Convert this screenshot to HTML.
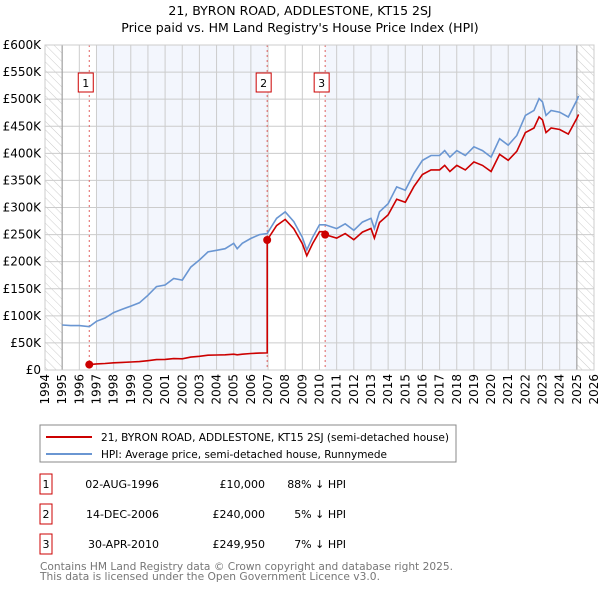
<!DOCTYPE html>
<html><head><meta charset="utf-8">
<style>
body{margin:0;background:#fff;width:600px;height:590px;overflow:hidden;font-family:"DejaVu Sans","Liberation Sans",sans-serif;}
svg{display:block}
</style></head>
<body>
<svg id="chart" width="600" height="590" viewBox="0 0 600 590" xmlns="http://www.w3.org/2000/svg">
<defs>
<pattern id="hatch" width="6" height="6" patternUnits="userSpaceOnUse" patternTransform="rotate(-45)">
<line x1="0" y1="0" x2="0" y2="6" stroke="#ccc" stroke-width="1"/>
</pattern>
</defs>
<text x="300" y="15" text-anchor="middle" font-size="12.5" fill="#000">21, BYRON ROAD, ADDLESTONE, KT15 2SJ</text>
<text x="300" y="32" text-anchor="middle" font-size="12.5" fill="#000">Price paid vs. HM Land Registry's House Price Index (HPI)</text>
<g id="plot"></g>
<g>
<rect x="40" y="425" width="416" height="37" fill="#fff" stroke="#888" stroke-width="1"/>
<line x1="46" y1="437" x2="92" y2="437" stroke="#cc0000" stroke-width="2"/>
<text x="101" y="441" font-size="11" textLength="348" lengthAdjust="spacingAndGlyphs">21, BYRON ROAD, ADDLESTONE, KT15 2SJ (semi-detached house)</text>
<line x1="46" y1="454" x2="92" y2="454" stroke="#6a96d2" stroke-width="2"/>
<text x="101" y="458" font-size="11" textLength="286" lengthAdjust="spacingAndGlyphs">HPI: Average price, semi-detached house, Runnymede</text>
</g>
<g id="table" font-size="11"></g>
<text x="40" y="570" font-size="11" fill="#777" textLength="413" lengthAdjust="spacingAndGlyphs">Contains HM Land Registry data © Crown copyright and database right 2025.</text>
<text x="40" y="580" font-size="11" fill="#777" textLength="340" lengthAdjust="spacingAndGlyphs">This data is licensed under the Open Government Licence v3.0.</text>
</svg>
<script>
const hpiYears=[1995.0,1995.5,1996.0,1996.58,1997.0,1997.5,1998.0,1998.5,1999.0,1999.5,2000.0,2000.5,2001.0,2001.5,2002.0,2002.5,2003.0,2003.5,2004.0,2004.5,2005.0,2005.2,2005.5,2006.0,2006.5,2006.95,2007.5,2008.0,2008.5,2009.0,2009.26,2009.6,2010.0,2010.33,2011.0,2011.5,2012.0,2012.5,2013.0,2013.2,2013.5,2014.0,2014.5,2015.0,2015.5,2016.0,2016.5,2017.0,2017.3,2017.6,2018.0,2018.5,2019.0,2019.5,2020.0,2020.5,2021.0,2021.5,2022.0,2022.5,2022.8,2023.0,2023.2,2023.5,2024.0,2024.5,2025.0,2025.1];
const hpiValues=[83000,82000,82000,80000,90000,96000,106000,112000,118000,124000,138000,154000,157000,169000,166000,190000,203000,218000,221000,224000,234000,224000,234000,243000,250000,252000,280000,292000,274000,245000,221500,245000,268000,268000,261000,270000,258000,273000,280000,261000,292000,307000,338000,332000,363000,387000,396000,396000,405000,393000,405000,396000,412000,405000,393000,427000,415000,433000,470000,479000,501000,495000,470000,479000,476000,467000,498000,506000];
const saleDates=[1996.58,2006.95,2010.33];
const salePrices=[10000,240000,249950];
const saleLabels=["02-AUG-1996","14-DEC-2006","30-APR-2010"];
const salePriceText=["£10,000","£240,000","£249,950"];
const saleDiffText=["88% ↓ HPI","5% ↓ HPI","7% ↓ HPI"];
const yTicks=[0,50000,100000,150000,200000,250000,300000,350000,400000,450000,500000,550000,600000];
const yTickLabels=["£0","£50K","£100K","£150K","£200K","£250K","£300K","£350K","£400K","£450K","£500K","£550K","£600K"];
const xTicks=[1994,1995,1996,1997,1998,1999,2000,2001,2002,2003,2004,2005,2006,2007,2008,2009,2010,2011,2012,2013,2014,2015,2016,2017,2018,2019,2020,2021,2022,2023,2024,2025,2026];

const NS="http://www.w3.org/2000/svg";
const L=45,R=594,T=45,B=370;
const x=t=>L+(t-1994)/(2026-1994)*(R-L);
const y=v=>B-v/600000*(B-T);
function mk(tag,attrs,parent){const e=document.createElementNS(NS,tag);for(const k in attrs)e.setAttribute(k,attrs[k]);parent.appendChild(e);return e;}
function hpiAt(t){for(let i=0;i<hpiYears.length-1;i++){if(t<=hpiYears[i+1]){const f=(t-hpiYears[i])/(hpiYears[i+1]-hpiYears[i]);return hpiValues[i]+f*(hpiValues[i+1]-hpiValues[i]);}}return hpiValues[hpiValues.length-1];}
const plot=document.getElementById('plot');
let bg=mk('rect',{x:L,y:T,width:R-L,height:B-T,fill:'#fff'},plot);


const shades=[[1997,saleDates[1]],[saleDates[2],2025]];
shades.forEach(s=>{const r=mk('rect',{x:x(s[0]),y:T,width:x(s[1])-x(s[0]),height:B-T,fill:'#f3f6fd'},plot);

});
let h1=mk('rect',{x:L,y:T,width:x(1995)-L,height:B-T,fill:'url(#hatch)'},plot);


let h2=mk('rect',{x:x(2025),y:T,width:R-x(2025),height:B-T,fill:'url(#hatch)'},plot);


yTicks.forEach((v,i)=>{const g=mk('line',{x1:L,x2:R,y1:y(v),y2:y(v),stroke:'#cccccc','stroke-width':1},plot);


const t=mk('text',{x:L-4,y:y(v)+4,'text-anchor':'end','font-size':12},plot);t.textContent=yTickLabels[i];

});
xTicks.forEach(yr=>{const g=mk('line',{x1:x(yr),x2:x(yr),y1:T,y2:B,stroke:'#cccccc','stroke-width':1},plot);


const t=mk('text',{x:0,y:0,'text-anchor':'end','font-size':12,transform:`translate(${x(yr)+4},${B+4}) rotate(-90)`},plot);t.textContent=yr;

});
let v1=mk('line',{x1:x(1995),x2:x(1995),y1:T,y2:B,stroke:'#999','stroke-width':1},plot);


let v2=mk('line',{x1:x(2025),x2:x(2025),y1:T,y2:B,stroke:'#999','stroke-width':1},plot);


saleDates.forEach((d,i)=>{const l=mk('line',{x1:x(d),x2:x(d),y1:T,y2:B,stroke:'#e06060','stroke-width':1,'stroke-dasharray':'2,3'},plot);


const b=mk('rect',{x:x(d)-11,y:73,width:15,height:19,fill:'#fff',stroke:'#cc0000','stroke-width':1},plot);


const t=mk('text',{x:x(d)-3.5,y:87,'text-anchor':'middle','font-size':11},plot);t.textContent=i+1;

});
let hp=hpiYears.map((t,i)=>`${x(t).toFixed(1)},${y(hpiValues[i]).toFixed(1)}`).join(' ');
let hl=mk('polyline',{points:hp,fill:'none',stroke:'#6a96d2','stroke-width':1.6},plot);


let pts=[];
for(let s=0;s<saleDates.length;s++){
 const start=saleDates[s],end=s<saleDates.length-1?saleDates[s+1]:2025.1;
 const base=hpiAt(start);
 pts.push([start,salePrices[s]]);
 hpiYears.forEach((t,i)=>{if(t>start&&t<end)pts.push([t,salePrices[s]*hpiValues[i]/base]);});
 pts.push([end,salePrices[s]*hpiAt(end)/base]);
}
let pl=mk('polyline',{points:pts.map(p=>`${x(p[0]).toFixed(1)},${y(p[1]).toFixed(1)}`).join(' '),fill:'none',stroke:'#cc0000','stroke-width':1.6},plot);


saleDates.forEach((d,i)=>{const c=mk('circle',{cx:x(d),cy:y(salePrices[i]),r:4,fill:'#cc0000'},plot);

});
let bd=mk('rect',{x:L,y:T,width:R-L,height:B-T,fill:'none',stroke:'#ccc','stroke-width':1},plot);


const tb=document.getElementById('table');
saleDates.forEach((d,i)=>{const yy=483+i*30;
const b=mk('rect',{x:40,y:yy-9,width:12,height:20,fill:'#fff',stroke:'#cc0000','stroke-width':1},tb);


const n=mk('text',{x:46,y:yy+5,'text-anchor':'middle'},tb);n.textContent=i+1;


const a=mk('text',{x:159,y:yy+5,'text-anchor':'end'},tb);a.textContent=saleLabels[i];


const p=mk('text',{x:265,y:yy+5,'text-anchor':'end'},tb);p.textContent=salePriceText[i];


const h=mk('text',{x:346,y:yy+5,'text-anchor':'end'},tb);h.textContent=saleDiffText[i];

});
</script>
</body></html>
